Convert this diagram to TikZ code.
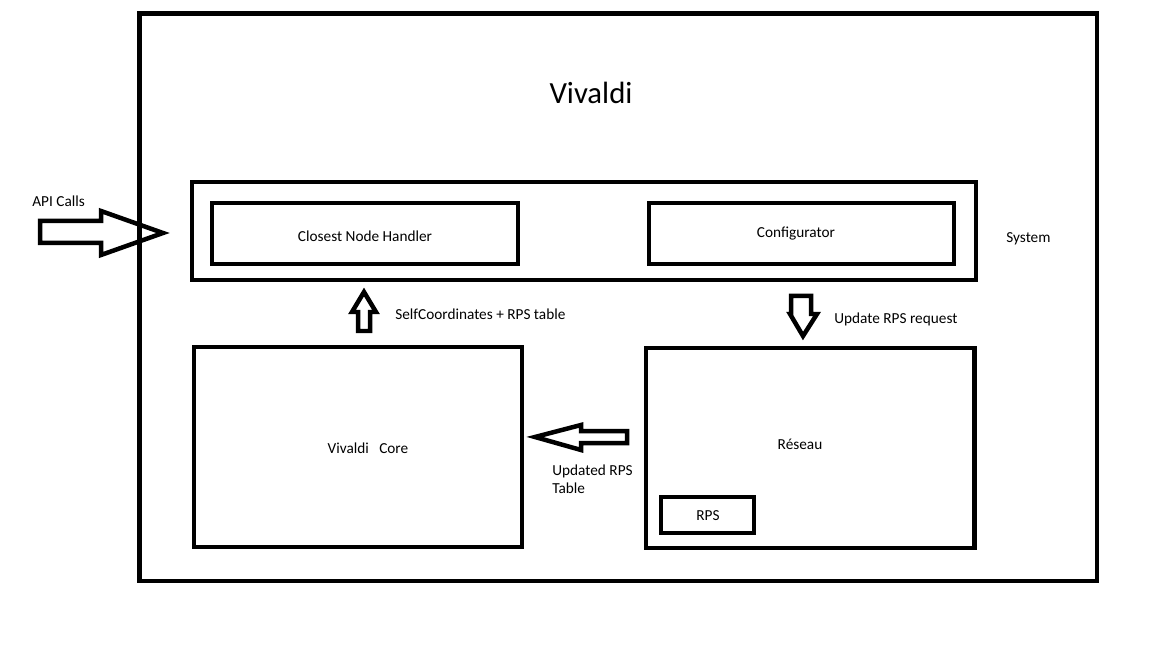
\documentclass[tikz,border=0pt]{standalone}
\usepackage{fontspec}
\setmainfont{Carlito}
\usetikzlibrary{fit}

\begin{document}
\begin{tikzpicture}[
  x=0.02cm, y=-0.02cm,
  box/.style={draw, line width=0.09cm, inner sep=0pt},
  blockarrow/.style={draw, line width=0.09cm, line join=miter},
  lab/.style={font=\fontsize{8.7}{10.2}\selectfont, inner sep=0pt},
  title/.style={font=\fontsize{17.5}{20}\selectfont, inner sep=0pt}
]
\useasboundingbox (0,0) rectangle (1152,648);

% ===================== boxes =====================
\node[box, fit={(139.5,13.5) (1097,581)}] (vivaldi) {};
\node[title] (vtitle) at (591,93) {Vivaldi};

\node[box, fit={(192,182) (976,280)}] (system) {};
\node[box, fit={(212,203) (518,264)}] (handler) {};
\node[lab] (handlerlab) at (365,236) {Closest Node Handler};
\node[box, fit={(649,203) (954,264)}] (config) {};
\node[lab] (configlab) at (796,234) {Configurator};
\node[lab, anchor=west] (systemlab) at (1006,239) {System};

\node[box, fit={(194,347) (522,547)}] (core) {};
\node[lab] (corelab) at (368,448) {Vivaldi\ \ \ Core};

\node[box, fit={(646,348) (974.5,548)}] (reseau) {};
\node[lab] (reseaulab) at (800,444) {Réseau};
\node[box, fit={(661,497) (754,533)}] (rps) {};
\node[lab] (rpslab) at (708,516) {RPS};

% ===================== block arrows =====================
% API calls, from the left
\draw[blockarrow] (40,221) -- (101,221) -- (101,211) -- (163,233) -- (101,255)
  -- (101,243) -- (40,243) -- cycle;
\node[lab, anchor=west] (apilab) at (32,201) {API Calls};

% core -> handler
\draw[blockarrow] (358,331) -- (358,312) -- (352,312) -- (364,292) -- (376,312)
  -- (370,312) -- (370,331) -- cycle;
\node[lab, anchor=west] (selflab) at (395,314) {SelfCoordinates + RPS table};

% system -> reseau
\draw[blockarrow] (791,296) -- (811,296) -- (811,314) -- (817,314) -- (803,336)
  -- (790,314) -- (791,314) -- cycle;
\node[lab, anchor=west] (updlab) at (834,319) {Update RPS request};

% reseau -> core
\draw[blockarrow] (627,431) -- (581,431) -- (581,425) -- (535,437) -- (581,450)
  -- (581,443) -- (627,443) -- cycle;
\node[lab, anchor=north west, align=left] (tablelab) at (552,465)
  {Updated RPS\\Table};

\end{tikzpicture}
\end{document}
